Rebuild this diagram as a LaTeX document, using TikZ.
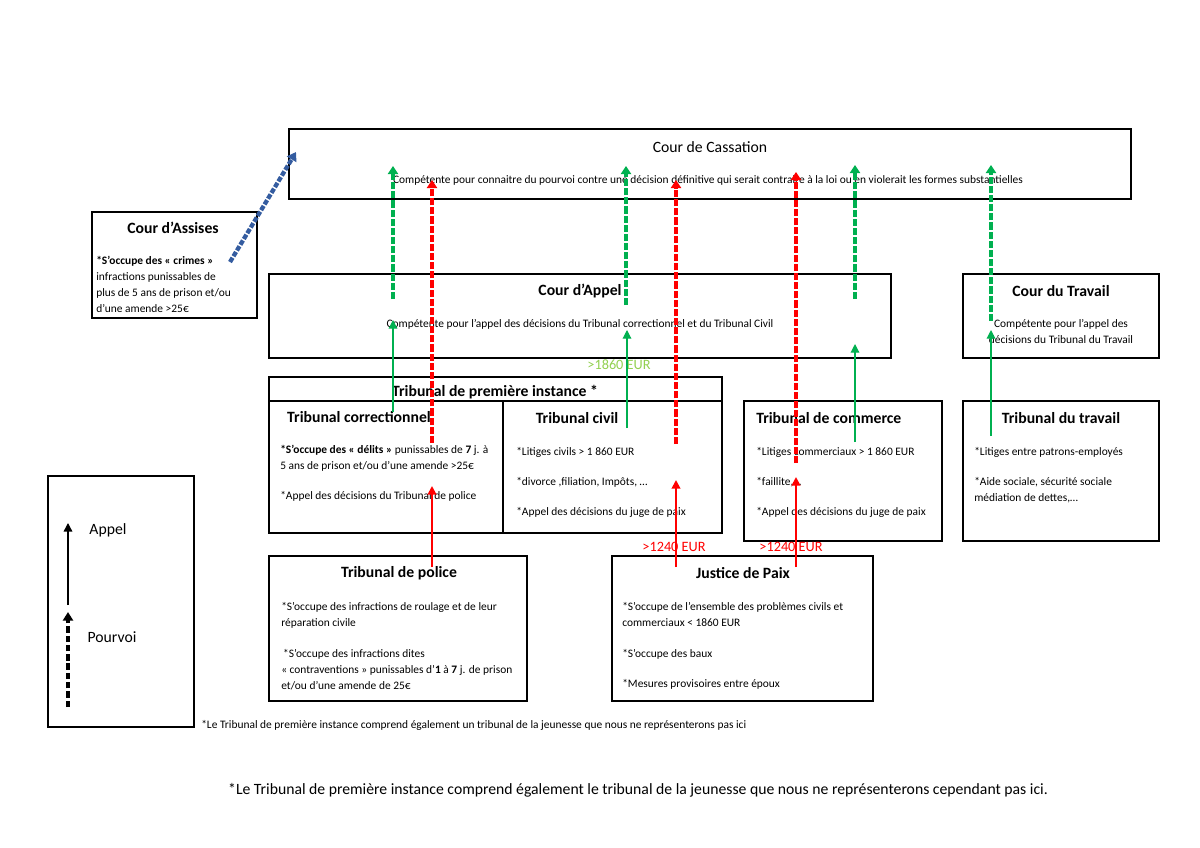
\documentclass[tikz,border=0pt]{standalone}
\usepackage{fontspec}
\setmainfont{Carlito}
\usetikzlibrary{arrows.meta,fit}
\definecolor{vert}{RGB}{0,176,80}
\definecolor{rouge}{RGB}{255,0,0}
\definecolor{vertclair}{RGB}{146,208,80}
\definecolor{bleu}{RGB}{52,92,160}
\tikzset{
  boite/.style={draw,line width=1.2pt,inner sep=0pt},
  titre/.style={font=\fontsize{11}{13}\selectfont\bfseries,inner sep=0pt},
  texte/.style={font=\fontsize{8}{11.2}\selectfont,align=left,inner sep=0pt,anchor=north west},
  pourvoi/.style={line width=2.2pt,dash pattern=on 5pt off 1.4pt,-{Triangle[length=5.6pt,width=7pt]}},
  appel/.style={line width=0.8pt,-{Triangle[length=6pt,width=6pt]}},
  somme/.style={font=\fontsize{10}{12}\selectfont,inner sep=0pt}
}
\begin{document}
\begin{tikzpicture}[x=0.7pt,y=-0.7pt]
\useasboundingbox (0,0) rectangle (1200,848);
\node[boite,fit={(289,129)(1131,199)}] (cass) {};
\node[boite,fit={(92,212)(257,318)}] (assises) {};
\node[boite,fit={(269,274)(891,358)}] (cappel) {};
\node[boite,fit={(963,274)(1159,358)}] (ctrav) {};
\node[boite,fit={(269,377)(722,533)}] (tpi) {};
\draw[line width=1.2pt](269,401)--(722,401)(503,401)--(503,533);
\node[boite,fit={(744,401)(942,541)}] (tcom) {};
\node[boite,fit={(963,401)(1159,541)}] (ttrav) {};
\node[boite,fit={(269,556)(527,701)}] (tpol) {};
\node[boite,fit={(612,556)(873,701)}] (jpaix) {};
\node[boite,fit={(48,476)(194,727)}] (legende) {};
\node[titre,font=\fontsize{11}{13}\selectfont] (cassT) at (710,147) {Cour de Cassation};
\node[texte,anchor=center] (cassX) at (708,180) {Compétente pour connaitre du pourvoi contre une décision définitive qui serait contraire à la loi ou en violerait les formes substantielles};
\node[titre] (assisesT) at (173,228) {Cour d’Assises};
\node[texte] (assisesX) at (96,256) {\textbf{*S’occupe des « crimes »}\\ infractions  punissables de\\ plus de 5 ans de prison et/ou\\ d’une amende >25€};
\node[titre] (cappelT) at (580,291) {Cour d’Appel};
\node[texte,anchor=center] (cappelX) at (580,324) {Compétente pour l’appel des décisions du Tribunal correctionnel et du Tribunal Civil};
\node[titre] (ctravT) at (1061,291) {Cour du Travail};
\node[texte,anchor=center,align=center] (ctravX) at (1061,332) {Compétente pour l’appel des\\ décisions du Tribunal du Travail};
\node[titre] (tpiT) at (495,392) {Tribunal de première instance *};
\node[titre] (tcorT) at (359,417) {Tribunal correctionnel};
\node[texte] (tcorX) at (280,445) {\textbf{*S’occupe des « délits »}  punissables de \textbf{7} j. à\\ 5 ans de prison et/ou d’une amende >25€\\[9.8pt] *Appel des décisions du Tribunal de police};
\node[titre] (tcivT) at (577,418) {Tribunal civil};
\node[texte] (tcivX) at (516,447) {*Litiges civils > 1 860 EUR\\[9.8pt] *divorce ,filiation, Impôts, …\\[9.8pt] *Appel des décisions du juge de paix};
\node[titre,anchor=west] (tcomT) at (756,418) {Tribunal de commerce};
\node[texte] (tcomX) at (756,447) {*Litiges commerciaux > 1 860 EUR\\[9.8pt] *faillite,…\\[9.8pt] *Appel des décisions du juge de paix};
\node[titre] (ttravT) at (1061,418) {Tribunal du travail};
\node[texte] (ttravX) at (974,447) {*Litiges entre patrons-employés\\[9.8pt] *Aide sociale, sécurité sociale\\ médiation de dettes,…};
\node[titre] (tpolT) at (399,573) {Tribunal de police};
\node[texte] (tpolX) at (281,602) {*S’occupe des infractions de roulage et de leur\\ réparation civile\\[10.5pt] \,*S’occupe des infractions  dites\\ « contraventions » punissables d’\textbf{1} à \textbf{7} j. de prison\\ et/ou d’une amende de 25€};
\node[titre] (jpaixT) at (743,573) {Justice de Paix};
\node[texte] (jpaixX) at (622,602) {*S’occupe de l’ensemble des problèmes  civils et\\ commerciaux < 1860 EUR\\[10.5pt] *S’occupe des baux\\[9.8pt] *Mesures provisoires entre époux};
\node[somme,text=vertclair] (s1860) at (619,365) {>1860 EUR};
\node[somme,text=rouge] (s1240a) at (674,547) {>1240 EUR};
\node[somme,text=rouge] (s1240b) at (791,547) {>1240 EUR};
\node[somme,font=\fontsize{11}{13}\selectfont] (lAppel) at (108,530) {Appel};
\node[somme,font=\fontsize{11}{13}\selectfont] (lPourvoi) at (112,637) {Pourvoi};
\node[texte,font=\fontsize{8}{9}\selectfont,anchor=west] (note1) at (201,725) {*Le Tribunal de première instance comprend également un tribunal de la jeunesse que nous ne représenterons pas ici};
\node[somme,font=\fontsize{11}{13}\selectfont] (note2) at (638,790) {*Le Tribunal de première instance comprend également le tribunal de la jeunesse que nous ne représenterons cependant pas ici.};
\foreach \n/\x/\ya/\yb in {1/393/299/166,2/626/305/166,3/855/299/165,4/991/321/165}{
  \coordinate (gva\n) at (\x,\ya);
  \coordinate (gvb\n) at (\x,\yb);
  \draw[pourvoi,vert] (gva\n) -- (gvb\n);
}
\foreach \n/\x/\ya/\yb in {1/432/443/180,2/676/444/180,3/796/463/172}{
  \coordinate (rva\n) at (\x,\ya);
  \coordinate (rvb\n) at (\x,\yb);
  \draw[pourvoi,rouge] (rva\n) -- (rvb\n);
}
\foreach \n/\x/\ya/\yb in {1/393/412/320,2/627/428/330,3/855/442/344,4/991/436/330}{
  \coordinate (gaa\n) at (\x,\ya);
  \coordinate (gab\n) at (\x,\yb);
  \draw[appel,vert] (gaa\n) -- (gab\n);
}
\foreach \n/\x/\ya/\yb in {1/432/567/486,2/676/567/480,3/796/567/477}{
  \coordinate (raa\n) at (\x,\ya);
  \coordinate (rab\n) at (\x,\yb);
  \draw[appel,rouge,line width=1.3pt] (raa\n) -- (rab\n);
}
\coordinate (bleuA) at (230,262);
\coordinate (bleuB) at (296,152);
\draw[bleu,line width=3pt,dash pattern=on 3.5pt off 1.2pt,-{Triangle[length=6pt,width=7.5pt]}] (bleuA) -- (bleuB);
\coordinate (legA) at (68,605);
\coordinate (legB) at (68,523);
\coordinate (legC) at (68,707);
\coordinate (legD) at (68,612);
\draw[line width=1pt,-{Triangle[length=6pt,width=6pt]}] (legA) -- (legB);
\draw[line width=2.6pt,dash pattern=on 4.5pt off 2pt,-{Triangle[length=6pt,width=7pt]}] (legC) -- (legD);
\end{tikzpicture}
\end{document}
